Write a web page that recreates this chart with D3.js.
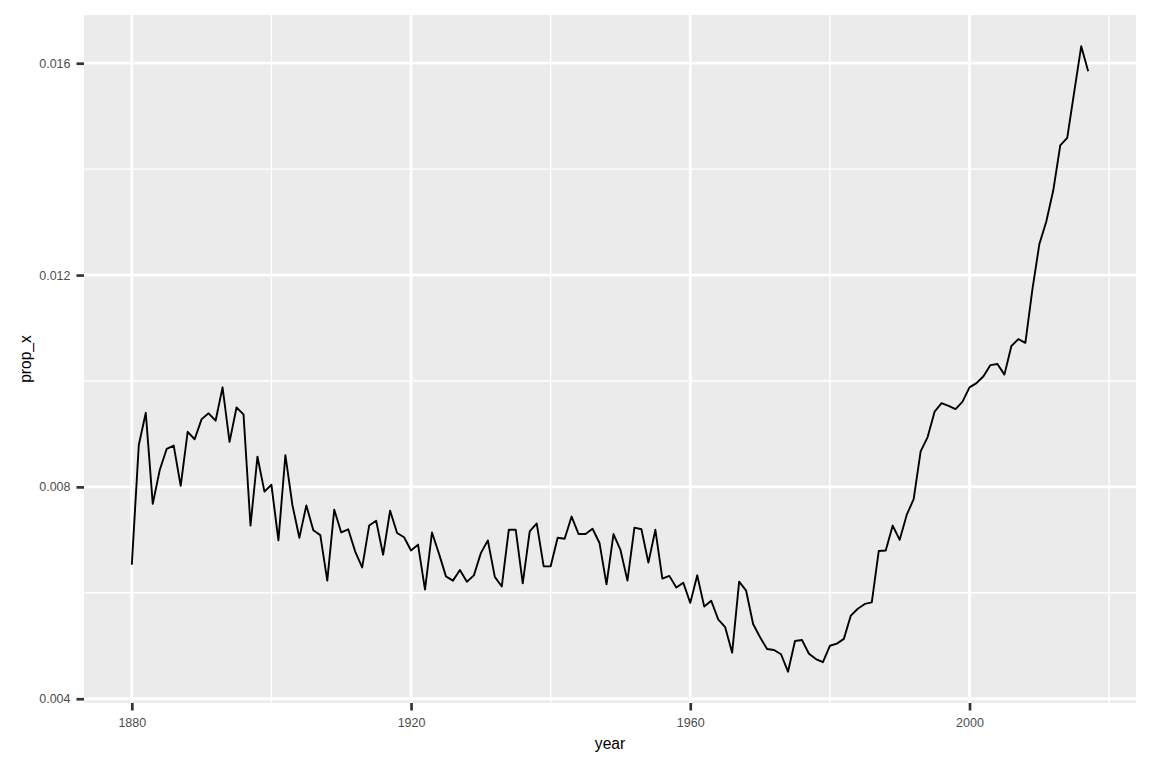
<!DOCTYPE html>
<html>
<head>
<meta charset="utf-8">
<script src="https://cdn.jsdelivr.net/npm/d3@7"></script>
<style>
  html, body { margin: 0; padding: 0; background: #ffffff; }
  svg { display: block; }
</style>
</head>
<body>
<svg id="chart" width="1152" height="768"></svg>
<script>
// ---- data ----
const years = [
  1880,1881,1882,1883,1884,1885,1886,1887,1888,1889,
  1890,1891,1892,1893,1894,1895,1896,1897,1898,1899,
  1900,1901,1902,1903,1904,1905,1906,1907,1908,1909,
  1910,1911,1912,1913,1914,1915,1916,1917,1918,1919,
  1920,1921,1922,1923,1924,1925,1926,1927,1928,1929,
  1930,1931,1932,1933,1934,1935,1936,1937,1938,1939,
  1940,1941,1942,1943,1944,1945,1946,1947,1948,1949,
  1950,1951,1952,1953,1954,1955,1956,1957,1958,1959,
  1960,1961,1962,1963,1964,1965,1966,1967,1968,1969,
  1970,1971,1972,1973,1974,1975,1976,1977,1978,1979,
  1980,1981,1982,1983,1984,1985,1986,1987,1988,1989,
  1990,1991,1992,1993,1994,1995,1996,1997,1998,1999,
  2000,2001,2002,2003,2004,2005,2006,2007,2008,2009,
  2010,2011,2012,2013,2014,2015,2016,2017
];
const propX = [
  0.00653,0.00879,0.00940,0.00768,0.00832,0.00872,0.00878,0.00802,0.00904,0.00890,
  0.00928,0.00939,0.00925,0.00988,0.00885,0.00950,0.00937,0.00727,0.00857,0.00791,
  0.00804,0.00699,0.00860,0.00766,0.00704,0.00765,0.00718,0.00709,0.00623,0.00757,
  0.00714,0.00720,0.00678,0.00648,0.00727,0.00736,0.00672,0.00755,0.00713,0.00705,
  0.00680,0.00691,0.00606,0.00714,0.00674,0.00631,0.00623,0.00643,0.00621,0.00633,
  0.00675,0.00699,0.00630,0.00612,0.00719,0.00719,0.00618,0.00716,0.00731,0.00650,
  0.00650,0.00704,0.00702,0.00744,0.00711,0.00711,0.00721,0.00694,0.00616,0.00711,
  0.00681,0.00623,0.00723,0.00720,0.00657,0.00719,0.00627,0.00632,0.00610,0.00619,
  0.00581,0.00633,0.00574,0.00585,0.00550,0.00535,0.00487,0.00621,0.00604,0.00541,
  0.00516,0.00494,0.00492,0.00484,0.00451,0.00509,0.00511,0.00485,0.00475,0.00469,
  0.00500,0.00504,0.00513,0.00557,0.00570,0.00579,0.00582,0.00679,0.00680,0.00727,
  0.00700,0.00747,0.00777,0.00867,0.00894,0.00942,0.00958,0.00953,0.00947,0.00961,
  0.00988,0.00996,0.01009,0.01030,0.01032,0.01012,0.01066,0.01079,0.01072,0.01172,
  0.01258,0.01301,0.01360,0.01445,0.01459,0.01546,0.01632,0.01585
];
const xMajorTicks = [1880, 1920, 1960, 2000];
const xMinorTicks = [1900, 1940, 1980, 2020];
const yMajorTicks = [0.004, 0.008, 0.012, 0.016];
const yMinorTicks = [0.006, 0.010, 0.014];
const xTitle = "year";
const yTitle = "prop_x";

// ---- layout ----
const panel = { left: 84, right: 1136, top: 15, bottom: 703 };
const FONT = "'Liberation Sans', Arial, Helvetica, sans-serif";

const xExt = d3.extent(years), yExt = d3.extent(propX);
const xPad = (xExt[1] - xExt[0]) * 0.05, yPad = (yExt[1] - yExt[0]) * 0.05;
const x = d3.scaleLinear().domain([xExt[0] - xPad, xExt[1] + xPad]).range([panel.left, panel.right]);
const y = d3.scaleLinear().domain([yExt[0] - yPad, yExt[1] + yPad]).range([panel.bottom, panel.top]);

const svg = d3.select("#chart");

// panel background
svg.append("rect")
  .attr("x", panel.left).attr("y", panel.top)
  .attr("width", panel.right - panel.left).attr("height", panel.bottom - panel.top)
  .attr("fill", "#EBEBEB");

const grid = svg.append("g");
// minor grid
grid.selectAll(".xminor").data(xMinorTicks.filter(t => x(t) <= panel.right)).join("line")
  .attr("x1", d => x(d)).attr("x2", d => x(d))
  .attr("y1", panel.top).attr("y2", panel.bottom)
  .attr("stroke", "#ffffff").attr("stroke-width", 1.4);
grid.selectAll(".yminor").data(yMinorTicks).join("line")
  .attr("y1", d => y(d)).attr("y2", d => y(d))
  .attr("x1", panel.left).attr("x2", panel.right)
  .attr("stroke", "#ffffff").attr("stroke-width", 1.4);
// major grid
grid.selectAll(".xmajor").data(xMajorTicks).join("line")
  .attr("x1", d => x(d)).attr("x2", d => x(d))
  .attr("y1", panel.top).attr("y2", panel.bottom)
  .attr("stroke", "#ffffff").attr("stroke-width", 2.8);
grid.selectAll(".ymajor").data(yMajorTicks).join("line")
  .attr("y1", d => y(d)).attr("y2", d => y(d))
  .attr("x1", panel.left).attr("x2", panel.right)
  .attr("stroke", "#ffffff").attr("stroke-width", 2.8);

// data line
const data = years.map((yr, i) => ({ year: yr, v: propX[i] }));
svg.append("path")
  .datum(data)
  .attr("fill", "none")
  .attr("stroke", "#000000")
  .attr("stroke-width", 1.9)
  .attr("stroke-linejoin", "round")
  .attr("d", d3.line().x(d => x(d.year)).y(d => y(d.v)));

// axes
const xAxis = svg.append("g")
  .attr("transform", `translate(0,${panel.bottom})`)
  .call(d3.axisBottom(x).tickValues(xMajorTicks).tickFormat(d3.format("d")).tickSize(7.5).tickPadding(4));
const yAxis = svg.append("g")
  .attr("transform", `translate(${panel.left},0)`)
  .call(d3.axisLeft(y).tickValues(yMajorTicks).tickFormat(d3.format(".3f")).tickSize(7.5).tickPadding(6));

[xAxis, yAxis].forEach(g => {
  g.select(".domain").remove();
  g.selectAll(".tick line").attr("stroke", "#333333").attr("stroke-width", 2.7);
  g.selectAll(".tick text")
    .attr("fill", "#4D4D4D")
    .style("font-family", FONT)
    .style("font-size", "12.5px");
});
xAxis.selectAll(".tick text").attr("dy", null).attr("y", 24);

// titles
svg.append("text")
  .attr("x", (panel.left + panel.right) / 2)
  .attr("y", 749)
  .attr("text-anchor", "middle")
  .attr("fill", "#000000")
  .style("font-family", FONT)
  .style("font-size", "15.6px")
  .text(xTitle);

svg.append("text")
  .attr("transform", `translate(31,${(panel.top + panel.bottom) / 2}) rotate(-90)`)
  .attr("text-anchor", "middle")
  .attr("fill", "#000000")
  .style("font-family", FONT)
  .style("font-size", "15.6px")
  .text(yTitle);
</script>
</body>
</html>
